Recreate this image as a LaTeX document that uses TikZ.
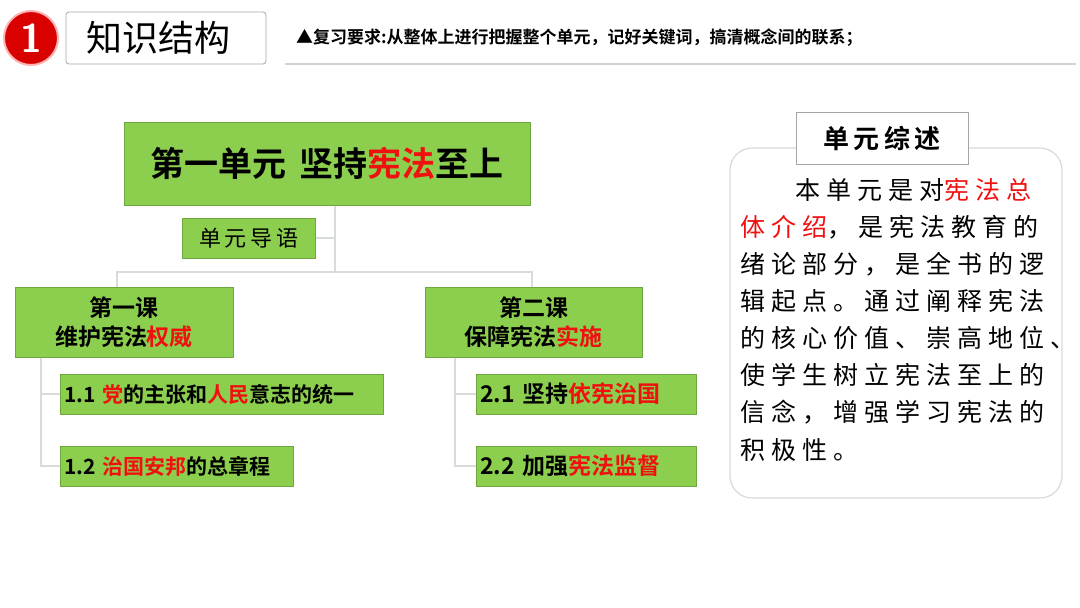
\documentclass[tikz,border=0pt]{standalone}
\usepackage{fontspec}
\setmainfont{Liberation Serif}
\newfontfamily\cjk{Noto Sans CJK SC}
\newfontfamily\cjksp[LetterSpace=24]{Noto Sans CJK SC}
\newfontfamily\cjkb{Noto Sans CJK SC Bold}
\definecolor{gbox}{HTML}{8CCF4E}
\definecolor{lnk}{HTML}{D8DCD8}
\definecolor{rd}{HTML}{F01010}
\tikzset{
 gb/.style={fill=gbox,draw=gbox!80!black,line width=0.6pt,inner sep=0pt},
 lk/.style={draw=lnk,line width=1.5pt},
 tx/.style={inner sep=0pt,font=\cjksp\fontsize{25}{26}\selectfont}
}
\newcommand{\R}[1]{\textcolor{rd}{#1}}
\begin{document}
\begin{tikzpicture}[x=1pt,y=-1pt]
\useasboundingbox (0,0) rectangle (1080,608);
% header
\node[circle,fill=red!85!black,draw=red!30,line width=2pt,minimum size=54pt,inner sep=0pt,text=white,font=\sffamily\bfseries\fontsize{40}{40}\selectfont] (num) at (31,38) {1};
\draw[gray!70,rounded corners=3pt,line width=0.8pt] (66,12) rectangle (266,64);
\node[font=\cjk\fontsize{36}{38}\selectfont] (hd) at (158,38) {知识结构};
\node[anchor=west,inner sep=0pt,font=\cjkb\fontsize{17}{20}\selectfont] (req) at (296,38) {▲复习要求:从整体上进行把握整个单元，记好关键词，搞清概念间的联系；};
\draw[gray!35,line width=1.2pt] (285,64) -- (1076,64);
% tree connectors
\coordinate (t0) at (335,205);
\coordinate (tb) at (335,272);
\draw[lk] (t0) -- (tb);
\draw[lk] (315,238) -- (335,238);
\draw[lk] (117,287) -- (117,272) -- (532,272) -- (532,287);
\draw[lk] (41,357) -- (41,466) -- (60,466);
\draw[lk] (41,394) -- (60,394);
\draw[lk] (455,357) -- (455,466) -- (476,466);
\draw[lk] (455,394) -- (476,394);
% boxes
\node[gb,minimum width=406pt,minimum height=83pt,font=\cjkb\fontsize{34}{36}\selectfont] (title) at (327,163.5) {第一单元\hspace{0.4em}坚持\R{宪法}至上};
\node[gb,minimum width=133pt,minimum height=40pt,font=\cjk\fontsize{22}{24}\selectfont] (dy) at (248.5,238) {单\,元\,导\,语};
\node[gb,minimum width=218pt,minimum height=70pt,align=center,font=\cjkb\fontsize{23}{29}\selectfont] (k1) at (124,322) {第一课\\维护宪法\R{权威}};
\node[gb,minimum width=217pt,minimum height=70pt,align=center,font=\cjkb\fontsize{23}{29}\selectfont] (k2) at (533.5,322) {第二课\\保障宪法\R{实施}};
\node[gb,minimum width=323pt,minimum height=40pt,anchor=west,text width=315pt,font=\cjkb\fontsize{21}{24}\selectfont] (a1) at (60,394) {1.1 \R{党}的主张和\R{人民}意志的统一};
\node[gb,minimum width=233pt,minimum height=40pt,anchor=west,text width=225pt,font=\cjkb\fontsize{21}{24}\selectfont] (a2) at (60,466) {1.2 \R{治国安邦}的总章程};
\node[gb,minimum width=220pt,minimum height=40pt,anchor=west,text width=212pt,font=\cjkb\fontsize{23}{26}\selectfont] (b1) at (476,394) {2.1 坚持\R{依宪治国}};
\node[gb,minimum width=220pt,minimum height=40pt,anchor=west,text width=212pt,font=\cjkb\fontsize{23}{26}\selectfont] (b2) at (476,466) {2.2 加强\R{宪法监督}};
% right panel
\draw[gray!30,line width=1.2pt,rounded corners=22pt] (730,148) rectangle (1062,498);
\node[fill=white,draw=gray!70,line width=0.8pt,minimum width=172pt,minimum height=52pt,font=\cjkb\fontsize{26}{28}\selectfont] (zs) at (882,138) {单\,元\,综\,述};
\node[tx,anchor=west] (l1) at (795,190) {本单元是对\R{宪法总}};
\node[tx,anchor=west] (l2) at (740,227) {\R{体介绍}，是宪法教育的};
\node[tx,anchor=west] (l3) at (740,264) {绪论部分，是全书的逻};
\node[tx,anchor=west] (l4) at (740,301) {辑起点。通过阐释宪法};
\node[tx,anchor=west] (l5) at (740,338) {的核心价值、崇高地位、};
\node[tx,anchor=west] (l6) at (740,375) {使学生树立宪法至上的};
\node[tx,anchor=west] (l7) at (740,412) {信念，增强学习宪法的};
\node[tx,anchor=west] (l8) at (740,450) {积极性。};
\end{tikzpicture}
\end{document}
